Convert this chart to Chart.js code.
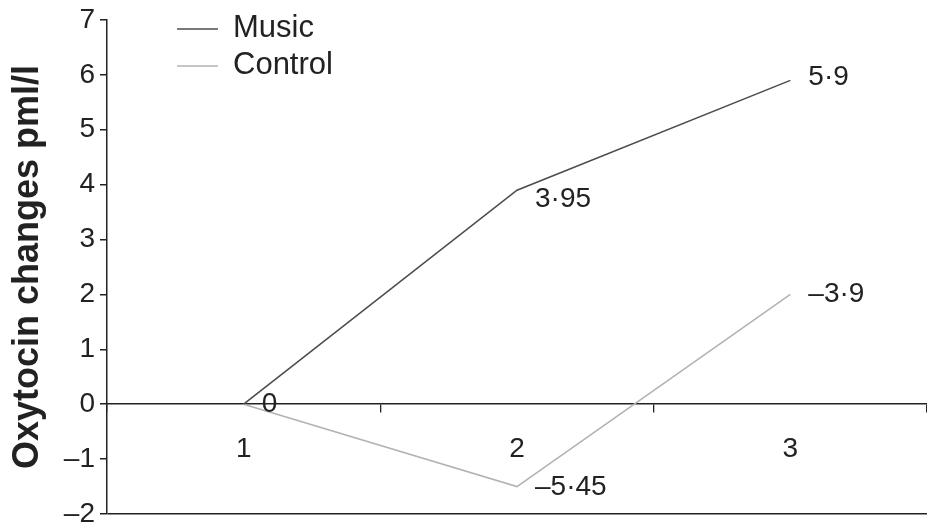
<!DOCTYPE html>
<html>
<head>
<meta charset="utf-8">
<script src="https://cdn.jsdelivr.net/npm/chart.js@4.4.0/dist/chart.umd.min.js"></script>
<style>
    html, body { margin: 0; padding: 0; background: #fff; }
    #wrap { width: 927px; height: 526px; }
</style>
</head>
<body>
<div id="wrap"><canvas id="oxytocinChart"></canvas></div>
<script>
// Oxytocin changes, music vs control

const timePoints = ['1', '2', '3'];
const musicValues = [0, 3.9, 5.9];
const controlValues = [0, -1.5, 2];
const musicLabels = ['0', '3·95', '5·9'];
const controlLabels = ['', '–5·45', '–3·9'];
const yTicks = { min: -2, max: 7, step: 1 };

const ink = '#222';
const fontFamily = '"Liberation Sans", Arial, Helvetica, sans-serif';

// point annotations next to each vertex
const pointLabelPlugin = {
    id: 'pointLabels',
    afterDatasetsDraw(chart, args, opts) {
        const { ctx } = chart;
        ctx.save();
        ctx.font = `${opts.size}px ${fontFamily}`;
        ctx.fillStyle = ink;
        ctx.textAlign = 'left';
        ctx.textBaseline = 'middle';
        chart.data.datasets.forEach((ds, i) => {
            const meta = chart.getDatasetMeta(i);
            const texts = opts.texts[i] || [];
            const shifts = opts.shifts[i] || [];
            meta.data.forEach((pt, j) => {
                if (!texts[j]) return;
                const dy = shifts[j] || 0;
                ctx.fillText(texts[j], pt.x + opts.dx, pt.y + dy);
            });
        });
        ctx.restore();
    }
};

// legend drawn inside the plot, top-left
const innerLegendPlugin = {
    id: 'innerLegend',
    afterDraw(chart, args, opts) {
        const { ctx } = chart;
        ctx.save();
        ctx.font = `${opts.size}px ${fontFamily}`;
        ctx.textBaseline = 'middle';
        chart.data.datasets.forEach((ds, i) => {
            const y = opts.y + i * opts.rowGap;
            ctx.strokeStyle = ds.borderColor;
            ctx.lineWidth = 1.5;
            ctx.beginPath();
            ctx.moveTo(opts.x, y + 1);
            ctx.lineTo(opts.x + opts.lineLen, y + 1);
            ctx.stroke();
            ctx.fillStyle = ink;
            ctx.fillText(ds.label, opts.x + opts.lineLen + 15, y);
        });
        ctx.restore();
    }
};

const ctx = document.getElementById('oxytocinChart').getContext('2d');
new Chart(ctx, {
    type: 'line',
    data: {
        labels: timePoints,
        datasets: [{
            label: 'Music',
            data: musicValues,
            borderColor: '#4d4d4d',
            borderWidth: 1.6,
            pointRadius: 0,
            tension: 0
        }, {
            label: 'Control',
            data: controlValues,
            borderColor: '#b3b3b3',
            borderWidth: 1.6,
            pointRadius: 0,
            tension: 0
        }]
    },
    options: {
        responsive: true,
        maintainAspectRatio: false,
        animation: false,
        layout: { padding: { top: 20, bottom: 12, left: 0, right: 0 } },
        scales: {
            x: {
                type: 'category',
                position: { y: 0 },
                offset: true,
                grid: {
                    offset: true,
                    drawOnChartArea: false,
                    tickLength: 8,
                    color: ink,
                    lineWidth: 1.3
                },
                border: { display: true, color: ink, width: 1.5 },
                ticks: {
                    color: ink,
                    padding: 20,
                    font: { family: fontFamily, size: 28 }
                }
            },
            y: {
                min: yTicks.min,
                max: yTicks.max,
                grid: {
                    drawOnChartArea: true,
                    tickLength: 7,
                    color: (c) => (c.tick && c.tick.value === yTicks.min ? ink : 'rgba(0,0,0,0)'),
                    tickColor: ink,
                    lineWidth: 1.5
                },
                border: { display: true, color: ink, width: 1.5 },
                ticks: {
                    stepSize: yTicks.step,
                    color: ink,
                    padding: 5,
                    font: { family: fontFamily, size: 28, lineHeight: 1 },
                    callback: (v) => (v < 0 ? '–' + Math.abs(v) : String(v))
                },
                title: {
                    display: true,
                    text: 'Oxytocin changes pml/l',
                    color: ink,
                    padding: { top: 6, bottom: 0 },
                    font: { family: fontFamily, size: 36, weight: 'bold', lineHeight: 1.2 }
                },
                afterFit: (scale) => {
                    scale.width = 107;
                    scale.paddingTop = 0;
                    scale.paddingBottom = 0;
                }
            }
        },
        plugins: {
            legend: { display: false },
            tooltip: { enabled: false },
            pointLabels: {
                size: 28,
                dx: 18,
                texts: [musicLabels, controlLabels],
                shifts: [[0, 9, -3], [0, 1, 0]]
            },
            innerLegend: { x: 177, y: 28, rowGap: 37, lineLen: 41, size: 31 }
        }
    },
    plugins: [pointLabelPlugin, innerLegendPlugin]
});
</script>
</body>
</html>
